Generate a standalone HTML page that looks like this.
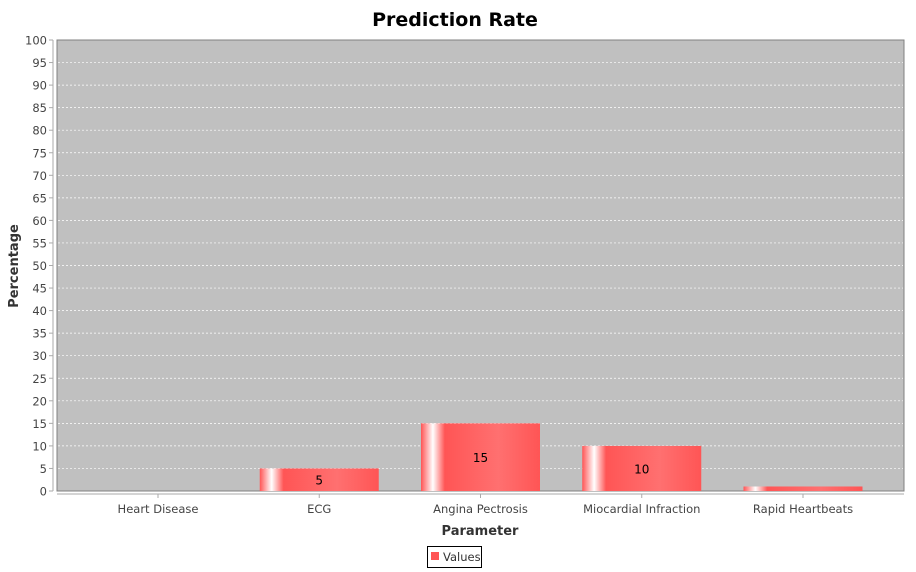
<!DOCTYPE html>
<html><head><meta charset="utf-8"><style>
body{margin:0;background:#fff;font-family:"DejaVu Sans","Liberation Sans",sans-serif}
svg text{font-family:"DejaVu Sans","Liberation Sans",sans-serif}
</style></head><body>
<svg id="c" width="916" height="568" xmlns="http://www.w3.org/2000/svg">
<defs>
<linearGradient id="bg" x1="0" x2="1" y1="0" y2="0">
<stop offset="0" stop-color="#ff5555"/>
<stop offset="0.1" stop-color="#ffffff"/>
<stop offset="0.2" stop-color="#ff5555"/>
<stop offset="0.65" stop-color="#ff7070"/>
<stop offset="1" stop-color="#ff5555"/>
</linearGradient>
</defs>
<text x="455" y="26" text-anchor="middle" font-size="19" font-weight="bold">Prediction Rate</text>
<rect x="57" y="40" width="847" height="451" fill="#c0c0c0" stroke="#808080"/>
<g id="grid"></g>
<line x1="53" y1="40" x2="53" y2="491" stroke="#aaa"/>
<line x1="57" y1="494" x2="904" y2="494" stroke="#aaa"/>
<g id="bars"></g>
<text x="18" y="266" text-anchor="middle" font-size="13" font-weight="bold" fill="#333" transform="rotate(-90 18 266)">Percentage</text>
<text x="480" y="535" text-anchor="middle" font-size="13" font-weight="bold" fill="#333">Parameter</text>
<g>
<rect x="427.5" y="546.5" width="54" height="21" fill="#fff" stroke="#000"/>
<rect x="431" y="552" width="8" height="8" fill="#ff5555"/>
<text x="443" y="561" font-size="11.5" fill="#333">Values</text>
</g>
</svg>
<script>
const categories=["Heart Disease","ECG","Angina Pectrosis","Miocardial Infraction","Rapid Heartbeats"];
const values=[0,5,15,10,1];
const yTicks=[0,5,10,15,20,25,30,35,40,45,50,55,60,65,70,75,80,85,90,95,100];
const NS="http://www.w3.org/2000/svg";
const svg=document.getElementById('c');
const y=v=>491-v*4.51;
const xc=i=>158+i*161.25;
function mk(t,a,p){const e=document.createElementNS(NS,t);for(const k in a)e.setAttribute(k,a[k]);p.appendChild(e);return e;}
const grid=document.getElementById('grid');
yTicks.forEach(v=>{
 if(v>0&&v<100){const l=mk('line',{x1:58,x2:903,y1:y(v),y2:y(v),stroke:'#fff','stroke-dasharray':'2,2','stroke-width':0.7},grid);
 
 }
 const tk=mk('line',{x1:49,x2:53,y1:y(v),y2:y(v),stroke:'#aaa'},grid);
 
 
 const t=mk('text',{x:47,y:y(v)+4.5,'text-anchor':'end','font-size':11.5,fill:'#444'},grid);
 t.textContent=v;
 
 
});
const bars=document.getElementById('bars');
categories.forEach((c,i)=>{
 const v=values[i];
 if(v>0){const r=mk('rect',{x:xc(i)-59.5,y:y(v),width:119,height:491-y(v),fill:'url(#bg)'},bars);
 
 
 if(v>=3){const t=mk('text',{x:xc(i),y:(y(v)+491)/2+5,'text-anchor':'middle','font-size':12,fill:'#000'},bars);
 t.textContent=v;
 
 }}
 const tk=mk('line',{x1:xc(i),x2:xc(i),y1:494,y2:498,stroke:'#aaa'},bars);
 
 
 const t=mk('text',{x:xc(i),y:513,'text-anchor':'middle','font-size':11.5,fill:'#444'},bars);
 t.textContent=c;
 
 
});
</script>
</body></html>
